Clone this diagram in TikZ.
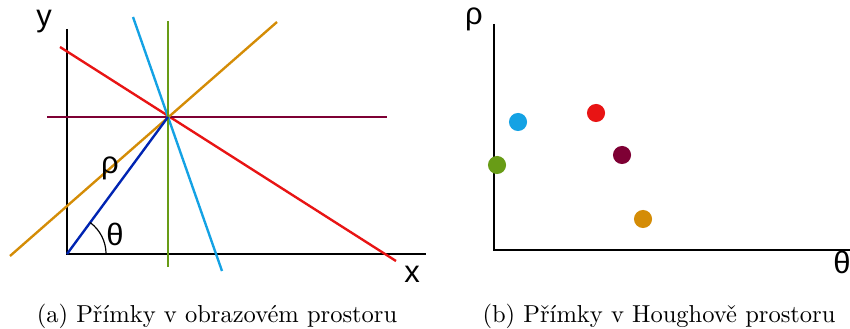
\documentclass[tikz,border=0pt]{standalone}
\usepackage{fontspec}
\newfontfamily\labelfont{Liberation Sans}
\usetikzlibrary{positioning}

\definecolor{lred}{RGB}{232,20,20}
\definecolor{lcyan}{RGB}{20,162,228}
\definecolor{lgreen}{RGB}{104,156,22}
\definecolor{lorange}{RGB}{212,140,6}
\definecolor{lpurple}{RGB}{126,0,52}
\definecolor{lblue}{RGB}{0,36,178}

\begin{document}
\begin{tikzpicture}[x=0.42pt, y=-0.42pt]
\tikzset{
    every node/.style={inner sep=0pt},
    axis/.style={draw=black, line width=1.1pt},
    imgline/.style={line width=1pt},
    axislabel/.style={font=\labelfont\fontsize{13}{15}\selectfont},
    vote/.style={circle, minimum size=7.6pt, inner sep=0pt},
    caption/.style={font=\fontsize{10.3}{12}\selectfont}
}
\useasboundingbox (0,0) rectangle (850,329);

% obrazovy prostor
\coordinate (O) at (67,254);
\coordinate (P) at (168,117);
\coordinate (ytop) at (67,29);
\coordinate (xend) at (426,254);
\draw[axis] (ytop) -- (O) -- (xend);
\node[axislabel] (ylab) at (44,22) {y};
\node[axislabel] (xlab) at (412,274) {x};

\coordinate (redA) at (60,47);
\coordinate (redB) at (396,261);
\coordinate (purA) at (47,117);
\coordinate (purB) at (387,117);
\coordinate (oraA) at (10,256);
\coordinate (oraB) at (277,22);
\coordinate (cyaA) at (133,17);
\coordinate (cyaB) at (222,271);
\coordinate (greA) at (168,21);
\coordinate (greB) at (168,267);
\draw[imgline, lred] (redA) -- (redB);
\draw[imgline, lpurple] (purA) -- (purB);
\draw[imgline, lorange] (oraA) -- (oraB);
\draw[imgline, lcyan] (cyaA) -- (cyaB);
\draw[imgline, lgreen] (greA) -- (greB);
\draw[imgline, lblue] (O) -- (P);
\draw[line width=0.5pt] (O) ++(16.4pt,0pt) arc[start angle=0, end angle=53.6, radius=16.4pt];
\node[axislabel] (rholab) at (110,168) {ρ};
\node[axislabel] (thetalab) at (115,234) {θ};

% Houghuv prostor
\coordinate (O2) at (494,250);
\coordinate (rtop) at (494,24);
\coordinate (tend) at (850,250);
\draw[axis] (rtop) -- (O2) -- (tend);
\node[axislabel] (rho2) at (474,19) {ρ};
\node[axislabel] (theta2) at (842,262) {θ};

\node[vote, fill=lcyan] (vcyan) at (518,122) {};
\node[vote, fill=lred] (vred) at (596,113) {};
\node[vote, fill=lpurple] (vpurple) at (622,155) {};
\node[vote, fill=lgreen] (vgreen) at (497,165) {};
\node[vote, fill=lorange] (vorange) at (643,219) {};

\node[caption] (capa) at (217,316) {(a) Přímky v obrazovém prostoru};
\node[caption] (capb) at (659,316) {(b) Přímky v Houghově prostoru};
\end{tikzpicture}
\end{document}
